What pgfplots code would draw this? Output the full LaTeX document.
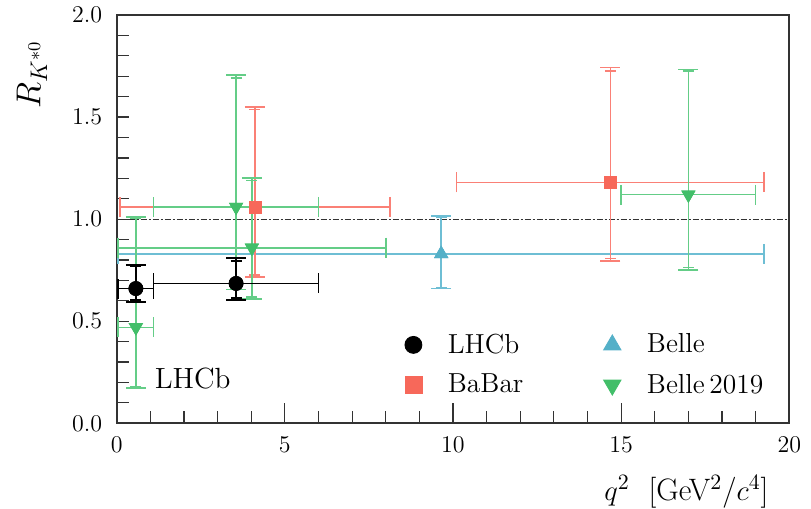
\documentclass[border=0pt]{standalone}
\usepackage{pgfplots}
\pgfplotsset{compat=1.18}
\usepackage{pgfplotstable}

\definecolor{mred}{RGB}{247,104,90}
\definecolor{mblue}{RGB}{84,176,200}
\definecolor{mgreen}{RGB}{66,190,105}
\definecolor{lred}{RGB}{250,128,118}
\definecolor{lblue}{RGB}{110,190,212}
\definecolor{lgreen}{RGB}{100,205,135}

% x, y, x half-widths of the q^2 bin, stat (s) and total (t) y errors
\pgfplotstableread{
x    y     exm   exp   seyp  seym  teyp  teym
0.57 0.660 0.525 0.530 0.110 0.057 0.115 0.067
3.55 0.685 2.450 2.450 0.110 0.070 0.125 0.082
}\lhcb

\pgfplotstableread{
x     y     exm   exp   seyp  seym  teyp  teym
4.11  1.060 4.010 4.010 0.478 0.335 0.490 0.344
14.68 1.180 4.570 4.570 0.547 0.373 0.562 0.386
}\babar

\pgfplotstableread{
x    y     exm   exp   seyp  seym  teyp  teym
9.65 0.830 9.605 9.600 0.180 0.165 0.186 0.170
}\belle

\pgfplotstableread{
x     y     exm   exp   seyp  seym  teyp  teym
0.57  0.470 0.525 0.530 0.535 0.290 0.541 0.297
3.55  1.060 2.450 2.450 0.630 0.395 0.646 0.405
4.02  0.860 3.975 3.980 0.330 0.240 0.342 0.250
17.00 1.120 2.000 2.000 0.607 0.357 0.613 0.370
}\bellenew

\pgfplotsset{
  statbars/.style={only marks, forget plot,
    error bars/.cd, y dir=both, y explicit,
    error bar style={line width=0.8pt, #1},
    error mark options={rotate=90, mark size=2.75pt, line width=0.8pt, #1}},
  totbars/.style={only marks, forget plot,
    error bars/.cd, x dir=both, x explicit, y dir=both, y explicit,
    error bar style={line width=0.8pt, #1},
    error mark options={rotate=90, mark size=5pt, line width=0.8pt, #1}},
}

\begin{document}
\begin{tikzpicture}
\useasboundingbox (-58.35pt,-42.85pt) rectangle (347.15pt,211.65pt);
\begin{axis}[
  at={(0,0)}, anchor=south west,
  scale only axis, width=336.3pt, height=204.15pt,
  xmin=0, xmax=20, ymin=0, ymax=2,
  xtick={0,5,10,15,20}, minor x tick num=4,
  extra x ticks={5,10,15},
  extra x tick labels={},
  extra x tick style={major tick length=10pt},
  ytick={0,0.5,1,1.5,2}, minor y tick num=4,
  tick align=inside, tick pos=left,
  major tick length=6pt, minor tick length=6pt,
  tick style={black!80, line width=0.6pt},
  axis line style={black!80, line width=0.9pt},
  ticklabel style={font=\fontsize{12.5}{14}\selectfont},
  xticklabel style={yshift=-3.3pt},
  yticklabel style={xshift=-3.8pt, /pgf/number format/.cd, fixed, fixed zerofill, precision=1},
  xlabel={$q^2$\ \ [GeV$^2$/$c^4$]},
  ylabel={$R_{K^{*0}}$},
  xlabel style={at={(rel axis cs:0.847,-0.168)}, anchor=center, font=\fontsize{15.5}{18}\selectfont},
  ylabel style={at={(rel axis cs:-0.126,0.855)}, anchor=center, font=\fontsize{17.5}{20}\selectfont},
  legend columns=2,
  legend cell align=left,
  legend style={at={(rel axis cs:0.419,0.24)}, anchor=north west,
    draw=none, fill=none, font=\fontsize{13.75}{16}\selectfont, row sep=5pt,
    /tikz/every odd column/.append style={column sep=11pt},
    /tikz/every even column/.append style={column sep=38.1pt}},
]
% reference line at unity
\addplot[forget plot, black!80, line width=0.6pt,
  dash pattern=on 3pt off 1pt on 1pt off 1pt] coordinates {(0,1) (20,1)};

% Belle
\addplot[mark=triangle*, mark size=3.75pt, color=mblue, statbars=lblue]
  table[x=x, y=y, y error plus=seyp, y error minus=seym]{\belle};
\addplot[mark=triangle*, mark size=3.75pt, color=mblue, totbars=lblue]
  table[x=x, y=y, x error plus=exp, x error minus=exm, y error plus=teyp, y error minus=teym]{\belle};

% BaBar
\addplot[mark=square*, mark size=3pt, color=mred, statbars=lred]
  table[x=x, y=y, y error plus=seyp, y error minus=seym]{\babar};
\addplot[mark=square*, mark size=3pt, color=mred, totbars=lred]
  table[x=x, y=y, x error plus=exp, x error minus=exm, y error plus=teyp, y error minus=teym]{\babar};

% Belle 2019
\addplot[mark=triangle*, mark size=3.75pt, mark options={rotate=180}, color=mgreen, statbars=lgreen]
  table[x=x, y=y, y error plus=seyp, y error minus=seym]{\bellenew};
\addplot[mark=triangle*, mark size=3.75pt, mark options={rotate=180}, color=mgreen, totbars=lgreen]
  table[x=x, y=y, x error plus=exp, x error minus=exm, y error plus=teyp, y error minus=teym]{\bellenew};

% LHCb
\addplot[mark=*, mark size=3.5pt, color=black, statbars=black]
  table[x=x, y=y, y error plus=seyp, y error minus=seym]{\lhcb};
\addplot[mark=*, mark size=3.5pt, color=black, totbars=black]
  table[x=x, y=y, x error plus=exp, x error minus=exm, y error plus=teyp, y error minus=teym]{\lhcb};

\node[anchor=base west, inner sep=0pt, font=\fontsize{14.6}{17}\selectfont] at (axis cs:1.12,0.171) {LHCb};

\addlegendimage{only marks, mark=*, mark size=4.25pt, black}
\addlegendentry{LHCb}
\addlegendimage{only marks, mark=triangle*, mark size=5pt, mblue}
\addlegendentry{Belle}
\addlegendimage{only marks, mark=square*, mark size=4.25pt, mred}
\addlegendentry{BaBar}
\addlegendimage{only marks, mark=triangle*, mark size=5pt, mark options={rotate=180}, mgreen}
\addlegendentry{Belle\,2019}
\end{axis}
\end{tikzpicture}
\end{document}
